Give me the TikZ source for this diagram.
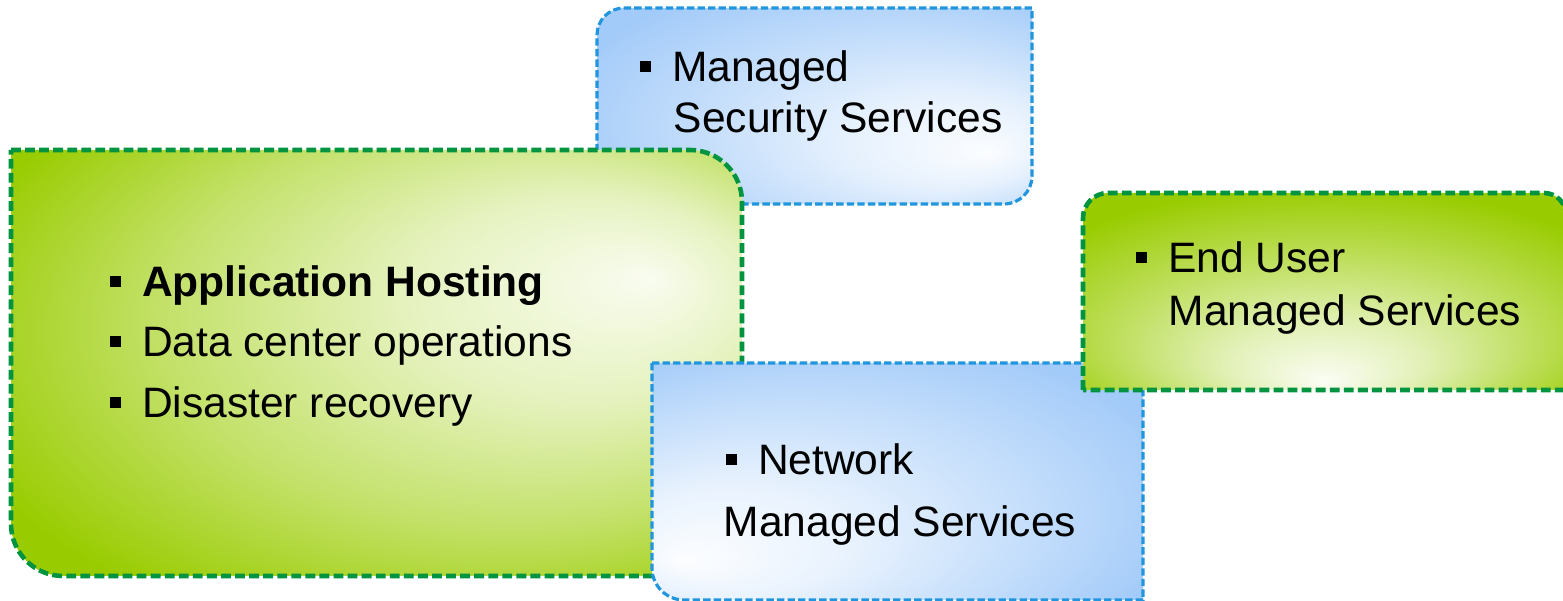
\documentclass[tikz,border=0pt]{standalone}
\usepackage{fontspec}
\setmainfont{Liberation Sans}
\definecolor{boxblue}{RGB}{163,203,249}
\definecolor{boxgreen}{RGB}{153,204,0}
\definecolor{lineblue}{RGB}{33,150,223}
\definecolor{linegreen}{RGB}{0,148,64}
\pgfdeclareradialshading{secshade}{\pgfpoint{20bp}{-12bp}}{color(0bp)=(boxblue!4); color(12bp)=(boxblue!28); color(24bp)=(boxblue!65); color(36bp)=(boxblue); color(50bp)=(boxblue)}
\pgfdeclareradialshading{appshade}{\pgfpoint{18.7bp}{10bp}}{color(0bp)=(boxgreen!6); color(12bp)=(boxgreen!25); color(24bp)=(boxgreen!58); color(36bp)=(boxgreen); color(50bp)=(boxgreen)}
\pgfdeclareradialshading{netshade}{\pgfpoint{-22bp}{-17bp}}{color(0bp)=(boxblue!3); color(12bp)=(boxblue!25); color(24bp)=(boxblue!62); color(36bp)=(boxblue); color(50bp)=(boxblue)}
\pgfdeclareradialshading{endshade}{\pgfpoint{0bp}{-23bp}}{color(0bp)=(boxgreen!4); color(10bp)=(boxgreen!28); color(22bp)=(boxgreen!65); color(34bp)=(boxgreen); color(50bp)=(boxgreen)}
\newcommand{\sqb}{\rule[0.24em]{0.26em}{0.26em}\hspace{0.5em}}

\begin{document}
\begin{tikzpicture}[x=0.01cm, y=-0.01cm,
    bluebox/.style={draw=lineblue, line width=0.9pt, dash pattern=on 2.1pt off 0.9pt},
    greenbox/.style={draw=linegreen, line width=1.3pt, dash pattern=on 2.8pt off 1.2pt},
    txt/.style={anchor=base west, inner sep=0pt, font=\fontsize{12.1}{14}\selectfont}]
    \useasboundingbox (0,0) rectangle (1563,601);
    \clip (0,0) rectangle (1563,601);

    \shadedraw[bluebox, shading=secshade] (597,204) -- (597,35) .. controls (597,20.1) and (609.1,8) .. (624,8) -- (1032,8) -- (1032,176) .. controls (1032,191.5) and (1019.5,204) .. (1004,204) -- cycle;
    \shadedraw[greenbox, shading=appshade] (11,150) -- (690,150) .. controls (718.7,150) and (742,173.3) .. (742,202) -- (742,576) -- (63,576) .. controls (34.3,576) and (11,552.7) .. (11,524) -- cycle;
    \shadedraw[bluebox, shading=netshade] (652,363) -- (1143,363) -- (1143,600) -- (684,600) .. controls (666.3,600) and (652,585.7) .. (652,568) -- cycle;
    \shadedraw[greenbox, shading=endshade] (1083,390) -- (1083,218) .. controls (1083,204.2) and (1094.2,193) .. (1108,193) -- (1544,193) .. controls (1556.2,193) and (1566,202.8) .. (1566,215) -- (1566,390) -- cycle;

    \node[txt] (sec1) at (639,82) {\sqb Managed};
    \node[txt] (sec2) at (673,133) {Security Services};
    \node[txt] (app1) at (109,297) {\sqb\textbf{Application Hosting}};
    \node[txt] (app2) at (109,357) {\sqb Data center operations};
    \node[txt] (app3) at (109,418) {\sqb Disaster recovery};
    \node[txt] (net1) at (725,475) {\sqb Network};
    \node[txt] (net2) at (723,537) {Managed Services};
    \node[txt] (end1) at (1135,273) {\sqb End User};
    \node[txt] (end2) at (1168,326) {Managed Services};
\end{tikzpicture}
\end{document}
